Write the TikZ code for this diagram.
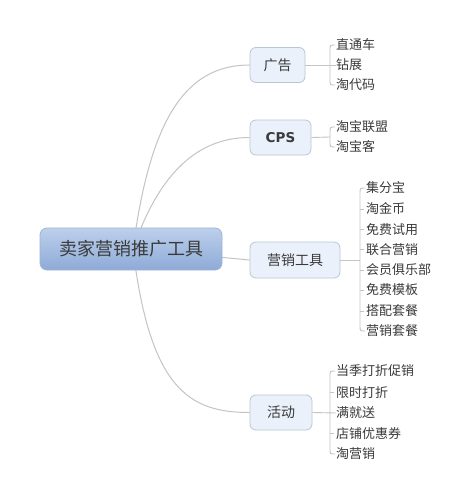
\documentclass[tikz,border=0pt]{standalone}
\usepackage{fontspec}
\setmainfont{Noto Sans CJK SC}
\newfontfamily\cpsfont{DejaVu Sans}
\usetikzlibrary{calc}
\definecolor{linec}{HTML}{C4C4C4}
\definecolor{txt}{HTML}{3A3A3A}
\definecolor{bfill}{HTML}{EAF1FB}
\definecolor{bdraw}{HTML}{B9C6D8}
\definecolor{mtop}{HTML}{BDD0EC}
\definecolor{mbot}{HTML}{8DAAD7}
\definecolor{mdraw}{HTML}{9EB4D8}
\begin{document}
\begin{tikzpicture}[x=1pt,y=-1pt,
  mainbox/.style={rounded corners=7pt,top color=mtop,bottom color=mbot,draw=mdraw,line width=0.8pt,
    minimum width=182pt,minimum height=42pt,inner sep=0pt,text=txt,font=\fontsize{18}{21}\selectfont},
  branchbox/.style={rounded corners=6pt,fill=bfill,draw=bdraw,line width=0.8pt,
    minimum height=35pt,inner sep=0pt,text=txt,font=\fontsize{14}{17}\selectfont},
  leaf/.style={anchor=west,inner sep=0pt,text=txt,font=\fontsize{13}{15}\selectfont},
  conn/.style={draw=linec,line width=1pt},
  brace/.style={draw=linec,line width=0.9pt}]
\useasboundingbox (0,0) rectangle (475,500);
\fill[white] (0,0) rectangle (475,500);

% nodes
\node[branchbox,minimum width=55pt] (ad) at (277.5,65) {广告};
\node[branchbox,minimum width=61pt,font=\cpsfont\bfseries\fontsize{13.5}{16}\selectfont] (cps) at (280.5,137.5) {CPS};
\node[branchbox,minimum width=90pt,minimum height=36pt] (mk) at (295,260) {营销工具};
\node[branchbox,minimum width=62pt] (act) at (281,412.5) {活动};

% main connectors (drawn before main node so it covers them)
\coordinate (o1) at (133,249);
\draw[conn] (o1) .. controls (150,120) and (185,65) .. (ad.west);
\draw[conn] (o1) .. controls (160,170) and (200,137.5) .. (cps.west);
\draw[conn] (o1) -- (mk.west);
\draw[conn] (o1) .. controls (150,390) and (190,412.5) .. (act.west);

\node[mainbox] (main) at (131,249) {卖家营销推广工具};

% leaves: 广告
\node[leaf] (a1) at (336,45) {直通车};
\node[leaf] (a2) at (336,65) {钻展};
\node[leaf] (a3) at (336,85) {淘代码};
% leaves: CPS
\node[leaf] (c1) at (336,127) {淘宝联盟};
\node[leaf] (c2) at (336,147) {淘宝客};
% leaves: 营销工具
\node[leaf] (m1) at (366,188) {集分宝};
\node[leaf] (m2) at (366,209) {淘金币};
\node[leaf] (m3) at (366,229.5) {免费试用};
\node[leaf] (m4) at (366,249.5) {联合营销};
\node[leaf] (m5) at (366,270) {会员俱乐部};
\node[leaf] (m6) at (366,290) {免费模板};
\node[leaf] (m7) at (366,311) {搭配套餐};
\node[leaf] (m8) at (366,331) {营销套餐};
% leaves: 活动
\node[leaf] (h1) at (336,371) {当季打折促销};
\node[leaf] (h2) at (336,392.5) {限时打折};
\node[leaf] (h3) at (336,413) {满就送};
\node[leaf] (h4) at (336,433.5) {店铺优惠券};
\node[leaf] (h5) at (336,454) {淘营销};

% brace connectors
\draw[brace] (ad.east) -- (a2.west);
\draw[brace] (a1.west) ++(-1,0) .. controls ($(a1.west)+(-6,0)$) .. ($(a1.west)+(-6,5)$) -- ($(a3.west)+(-6,-5)$) .. controls ($(a3.west)+(-6,0)$) .. ($(a3.west)+(-1,0)$);

\draw[brace] (cps.east) -- ($(c1.west)!0.5!(c2.west)+(-6,0)$);
\draw[brace] (c1.west) ++(-1,0) .. controls ($(c1.west)+(-6,0)$) .. ($(c1.west)+(-6,5)$) -- ($(c2.west)+(-6,-5)$) .. controls ($(c2.west)+(-6,0)$) .. ($(c2.west)+(-1,0)$);

\draw[brace] (mk.east) -- ($(mk.east-|m1.west)+(-6,0)$);
\draw[brace] (m1.west) ++(-1,0) .. controls ($(m1.west)+(-6,0)$) .. ($(m1.west)+(-6,5)$) -- ($(m8.west)+(-6,-5)$) .. controls ($(m8.west)+(-6,0)$) .. ($(m8.west)+(-1,0)$);
\foreach \n in {m2,m3,m4,m5,m6,m7} \draw[brace] ($(\n.west)+(-6,0)$) -- ($(\n.west)+(-2,0)$);

\draw[brace] (act.east) -- (h3.west);
\draw[brace] (h1.west) ++(-1,0) .. controls ($(h1.west)+(-6,0)$) .. ($(h1.west)+(-6,5)$) -- ($(h5.west)+(-6,-5)$) .. controls ($(h5.west)+(-6,0)$) .. ($(h5.west)+(-1,0)$);
\foreach \n in {h2,h4} \draw[brace] ($(\n.west)+(-6,0)$) -- ($(\n.west)+(-2,0)$);
\end{tikzpicture}
\end{document}
